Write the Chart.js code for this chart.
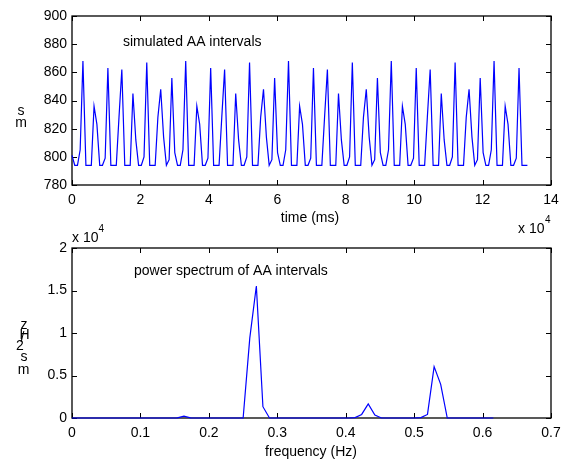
<!DOCTYPE html>
<html>
<head>
<meta charset="utf-8">
<script src="https://cdn.jsdelivr.net/npm/chart.js@4.4.0/dist/chart.umd.min.js"></script>
<style>
  html, body { margin: 0; padding: 0; background: #fff; }
  #wrap { position: relative; width: 562px; height: 459px; overflow: hidden; }
  #topChart { position: absolute; left: 0; top: 0; }
  #bottomChart { position: absolute; left: 0; top: 215px; }
</style>
</head>
<body>
<div id="wrap">
  <canvas id="topChart" width="562" height="235"></canvas>
  <canvas id="bottomChart" width="562" height="244"></canvas>
</div>
<script>
// simulated AA intervals (ms), one row per repeating cycle of the simulation
const intervals = [
  801, 794, 794, 805,
  868, 794, 794, 794, 836, 823, 794, 794, 799, 863, 794, 794, 794, 828, 862, 794, 794, 794, 845, 812, 794, 794, 800, 867, 794, 794, 794, 828, 848, 814, 794, 798, 856, 803, 794, 794, 805,
  868, 794, 794, 794, 836, 823, 794, 794, 799, 863, 794, 794, 794, 828, 862, 794, 794, 794, 845, 812, 794, 794, 800, 867, 794, 794, 794, 828, 848, 814, 794, 798, 856, 803, 794, 794, 805,
  868, 794, 794, 794, 836, 823, 794, 794, 799, 863, 794, 794, 794, 828, 862, 794, 794, 794, 845, 812, 794, 794, 800, 867, 794, 794, 794, 828, 848, 814, 794, 798, 856, 803, 794, 794, 805,
  868, 794, 794, 794, 836, 823, 794, 794, 799, 863, 794, 794, 794, 828, 862, 794, 794, 794, 845, 812, 794, 794, 800, 867, 794, 794, 794, 828, 848, 814, 794, 798, 856, 803, 794, 794, 805,
  868, 794, 794, 794, 836, 823, 794, 794, 799, 863, 794, 794, 794
];

// power spectrum of the intervals: frequency bins (Hz) and power (ms^2/Hz)
const freqs = [
  0, 0.0096, 0.0192, 0.0289, 0.0385, 0.0481, 0.0577, 0.0673, 0.0770, 0.0866,
  0.0962, 0.1058, 0.1155, 0.1251, 0.1347, 0.1443, 0.1539, 0.1636, 0.1732, 0.1828,
  0.1924, 0.2020, 0.2117, 0.2213, 0.2309, 0.2405, 0.2501, 0.2598, 0.2694, 0.2790,
  0.2886, 0.2983, 0.3079, 0.3175, 0.3271, 0.3367, 0.3464, 0.3560, 0.3656, 0.3752,
  0.3848, 0.3945, 0.4041, 0.4137, 0.4233, 0.4329, 0.4426, 0.4522, 0.4618, 0.4714,
  0.4811, 0.4907, 0.5003, 0.5099, 0.5195, 0.5292, 0.5388, 0.5484, 0.5580, 0.5676,
  0.5773, 0.5869, 0.5965, 0.6061, 0.6157
];
const power = [
  0, 0, 0, 0, 0, 0, 0, 0, 0, 0,
  0, 0, 0, 0, 0, 0, 20, 220, 20, 0,
  0, 0, 0, 0, 0, 0, 0, 9400, 15530, 1330,
  0, 0, 0, 0, 0, 0, 0, 0, 0, 0,
  0, 0, 0, 40, 420, 1650, 350, 0, 0, 0,
  0, 0, 0, 40, 420, 6040, 3960, 0, 0, 0,
  0, 0, 0, 0, 0
];

// axis ticks
const timeTicks = [0, 20000, 40000, 60000, 80000, 100000, 120000, 140000];
const intervalTicks = [780, 800, 820, 840, 860, 880, 900];
const freqTicks = [0, 0.1, 0.2, 0.3, 0.4, 0.5, 0.6, 0.7];
const powerTicks = [0, 5000, 10000, 15000, 20000];

// each interval is plotted at the time it starts (running sum of the previous ones)
let clock = 0;
const intervalPoints = intervals.map(v => {
  const p = { x: clock, y: v };
  clock += v;
  return p;
});
const spectrumPoints = freqs.map((f, i) => ({ x: f, y: power[i] }));

Chart.defaults.font.family = '"Liberation Sans", Arial, Helvetica, sans-serif';
Chart.defaults.font.size = 14;
Chart.defaults.color = '#000';

// MATLAB-like box with inward ticks on all four sides, plus free text
const matlabAxes = {
  id: 'matlabAxes',
  beforeDatasetsDraw(chart) {
    const { ctx, chartArea: a, scales } = chart;
    ctx.save();
    ctx.strokeStyle = '#000';
    ctx.lineWidth = 1.3;
    ctx.strokeRect(a.left, a.top, a.right - a.left, a.bottom - a.top);
    ctx.lineWidth = 1;
    const len = 5;
    ctx.beginPath();
    scales.x.ticks.forEach(t => {
      const px = Math.round(scales.x.getPixelForValue(t.value)) + 0.5;
      ctx.moveTo(px, a.bottom); ctx.lineTo(px, a.bottom - len);
      ctx.moveTo(px, a.top); ctx.lineTo(px, a.top + len);
    });
    scales.y.ticks.forEach(t => {
      const py = Math.round(scales.y.getPixelForValue(t.value)) + 0.5;
      ctx.moveTo(a.left, py); ctx.lineTo(a.left + len, py);
      ctx.moveTo(a.right, py); ctx.lineTo(a.right - len, py);
    });
    ctx.stroke();
    ctx.restore();
  },
  afterDraw(chart, args, opts) {
    const ctx = chart.ctx;
    ctx.save();
    ctx.fillStyle = '#000';
    ctx.textBaseline = 'alphabetic';
    (opts.texts || []).forEach(t => {
      ctx.font = (t.size || 14) + 'px "Liberation Sans", Arial, Helvetica, sans-serif';
      ctx.textAlign = t.align || 'left';
      ctx.fillText(t.text, t.x, t.y);
    });
    ctx.restore();
  }
};

function fixedTicks(list) {
  return function (scale) {
    scale.ticks = list.map(v => ({ value: v }));
  };
}

// pin the plot box: no extra room for overhanging first/last labels
function fixHeight(h) {
  return function (scale) {
    scale.height = h;
    scale.paddingLeft = 0;
    scale.paddingRight = 0;
  };
}
function fixWidth(w) {
  return function (scale) {
    scale.width = w;
    scale.paddingTop = 0;
    scale.paddingBottom = 0;
  };
}

new Chart(document.getElementById('topChart'), {
  type: 'line',
  data: {
    datasets: [{
      data: intervalPoints,
      borderColor: '#0000ff',
      borderWidth: 1.2,
      pointRadius: 0,
      tension: 0,
      fill: false,
      clip: false
    }]
  },
  options: {
    responsive: false,
    animation: false,
    events: [],
    layout: { padding: { left: 0, top: 16, right: 11, bottom: 0 } },
    scales: {
      x: {
        type: 'linear',
        min: 0, max: 140000,
        afterBuildTicks: fixedTicks(timeTicks),
        afterFit: fixHeight(50),
        grid: { display: false, drawTicks: false },
        border: { display: false },
        ticks: {
          padding: 7, maxRotation: 0,
          callback: v => String(v / 10000)
        }
      },
      y: {
        min: 780, max: 900,
        afterBuildTicks: fixedTicks(intervalTicks),
        afterFit: fixWidth(72),
        grid: { display: false, drawTicks: false },
        border: { display: false },
        ticks: { padding: 5 }
      }
    },
    plugins: {
      legend: { display: false },
      tooltip: { enabled: false },
      matlabAxes: {
        texts: [
          { text: 'simulated AA intervals', x: 123, y: 45.5 },
          { text: 'time (ms)', x: 310, y: 222, align: 'center' },
          { text: 'x 10', x: 518, y: 233 },
          { text: '4', x: 545, y: 223, size: 10 },
          { text: 's', x: 21, y: 115, align: 'center' },
          { text: 'm', x: 21, y: 127, align: 'center' }
        ]
      }
    }
  },
  plugins: [matlabAxes]
});

new Chart(document.getElementById('bottomChart'), {
  type: 'line',
  data: {
    datasets: [{
      data: spectrumPoints,
      borderColor: '#0000ff',
      borderWidth: 1.2,
      pointRadius: 0,
      tension: 0,
      fill: false,
      clip: false
    }]
  },
  options: {
    responsive: false,
    animation: false,
    events: [],
    layout: { padding: { left: 0, top: 33, right: 11, bottom: 0 } },
    scales: {
      x: {
        type: 'linear',
        min: 0, max: 0.7,
        afterBuildTicks: fixedTicks(freqTicks),
        afterFit: fixHeight(41),
        grid: { display: false, drawTicks: false },
        border: { display: false },
        ticks: {
          padding: 7, maxRotation: 0,
          callback: v => (v === 0 ? '0' : v.toFixed(1))
        }
      },
      y: {
        min: 0, max: 20000,
        afterBuildTicks: fixedTicks(powerTicks),
        afterFit: fixWidth(72),
        grid: { display: false, drawTicks: false },
        border: { display: false },
        ticks: {
          padding: 5,
          callback: v => String(v / 10000)
        }
      }
    },
    plugins: {
      legend: { display: false },
      tooltip: { enabled: false },
      matlabAxes: {
        texts: [
          { text: 'power spectrum of AA intervals', x: 134, y: 60 },
          { text: 'frequency (Hz)', x: 311, y: 241, align: 'center' },
          { text: 'x 10', x: 72, y: 27 },
          { text: '4', x: 98.5, y: 17, size: 10 },
          { text: 'z', x: 24, y: 114, align: 'center' },
          { text: 'H', x: 24.5, y: 124, align: 'center' },
          { text: '/', x: 22.5, y: 127, align: 'center' },
          { text: '2', x: 20, y: 135, align: 'center' },
          { text: 's', x: 24, y: 146, align: 'center' },
          { text: 'm', x: 23.5, y: 159, align: 'center' }
        ]
      }
    }
  },
  plugins: [matlabAxes]
});
</script>
</body>
</html>
